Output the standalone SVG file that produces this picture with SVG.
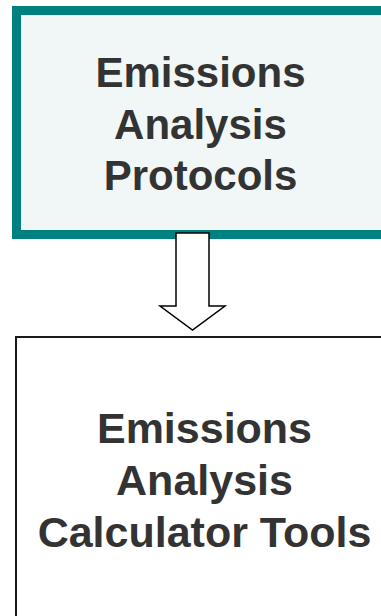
<svg xmlns="http://www.w3.org/2000/svg" width="381" height="616" viewBox="0 0 381 616">
<style>
.lbl{font-family:"Liberation Sans",Arial,sans-serif;font-weight:bold;font-size:42px;fill:#333333;text-anchor:middle}
.big{font-size:43px}
</style>
<rect width="381" height="616" fill="#ffffff"/>
<g id="node-protocols">
<rect x="16.5" y="10.5" width="380" height="224" fill="#f1f7f7" stroke="#008080" stroke-width="9"/>
<text class="lbl" x="200.5" y="87">Emissions</text>
<text class="lbl" x="200.5" y="138.5">Analysis</text>
<text class="lbl" x="200.5" y="190">Protocols</text>
</g>
<g id="connectors">
<polygon points="176,233 209,233 209,306 225,306 192.5,330 160,306 176,306" fill="#ffffff" stroke="#000000" stroke-width="1.5" stroke-linejoin="miter"/>
</g>
<g id="node-calculator">
<rect x="16" y="337" width="380" height="300" fill="#ffffff" stroke="#1a1a1a" stroke-width="2"/>
<text class="lbl big" x="204.5" y="443">Emissions</text>
<text class="lbl big" x="204.5" y="495">Analysis</text>
<text class="lbl big" x="204.5" y="547">Calculator Tools</text>
</g>
</svg>
